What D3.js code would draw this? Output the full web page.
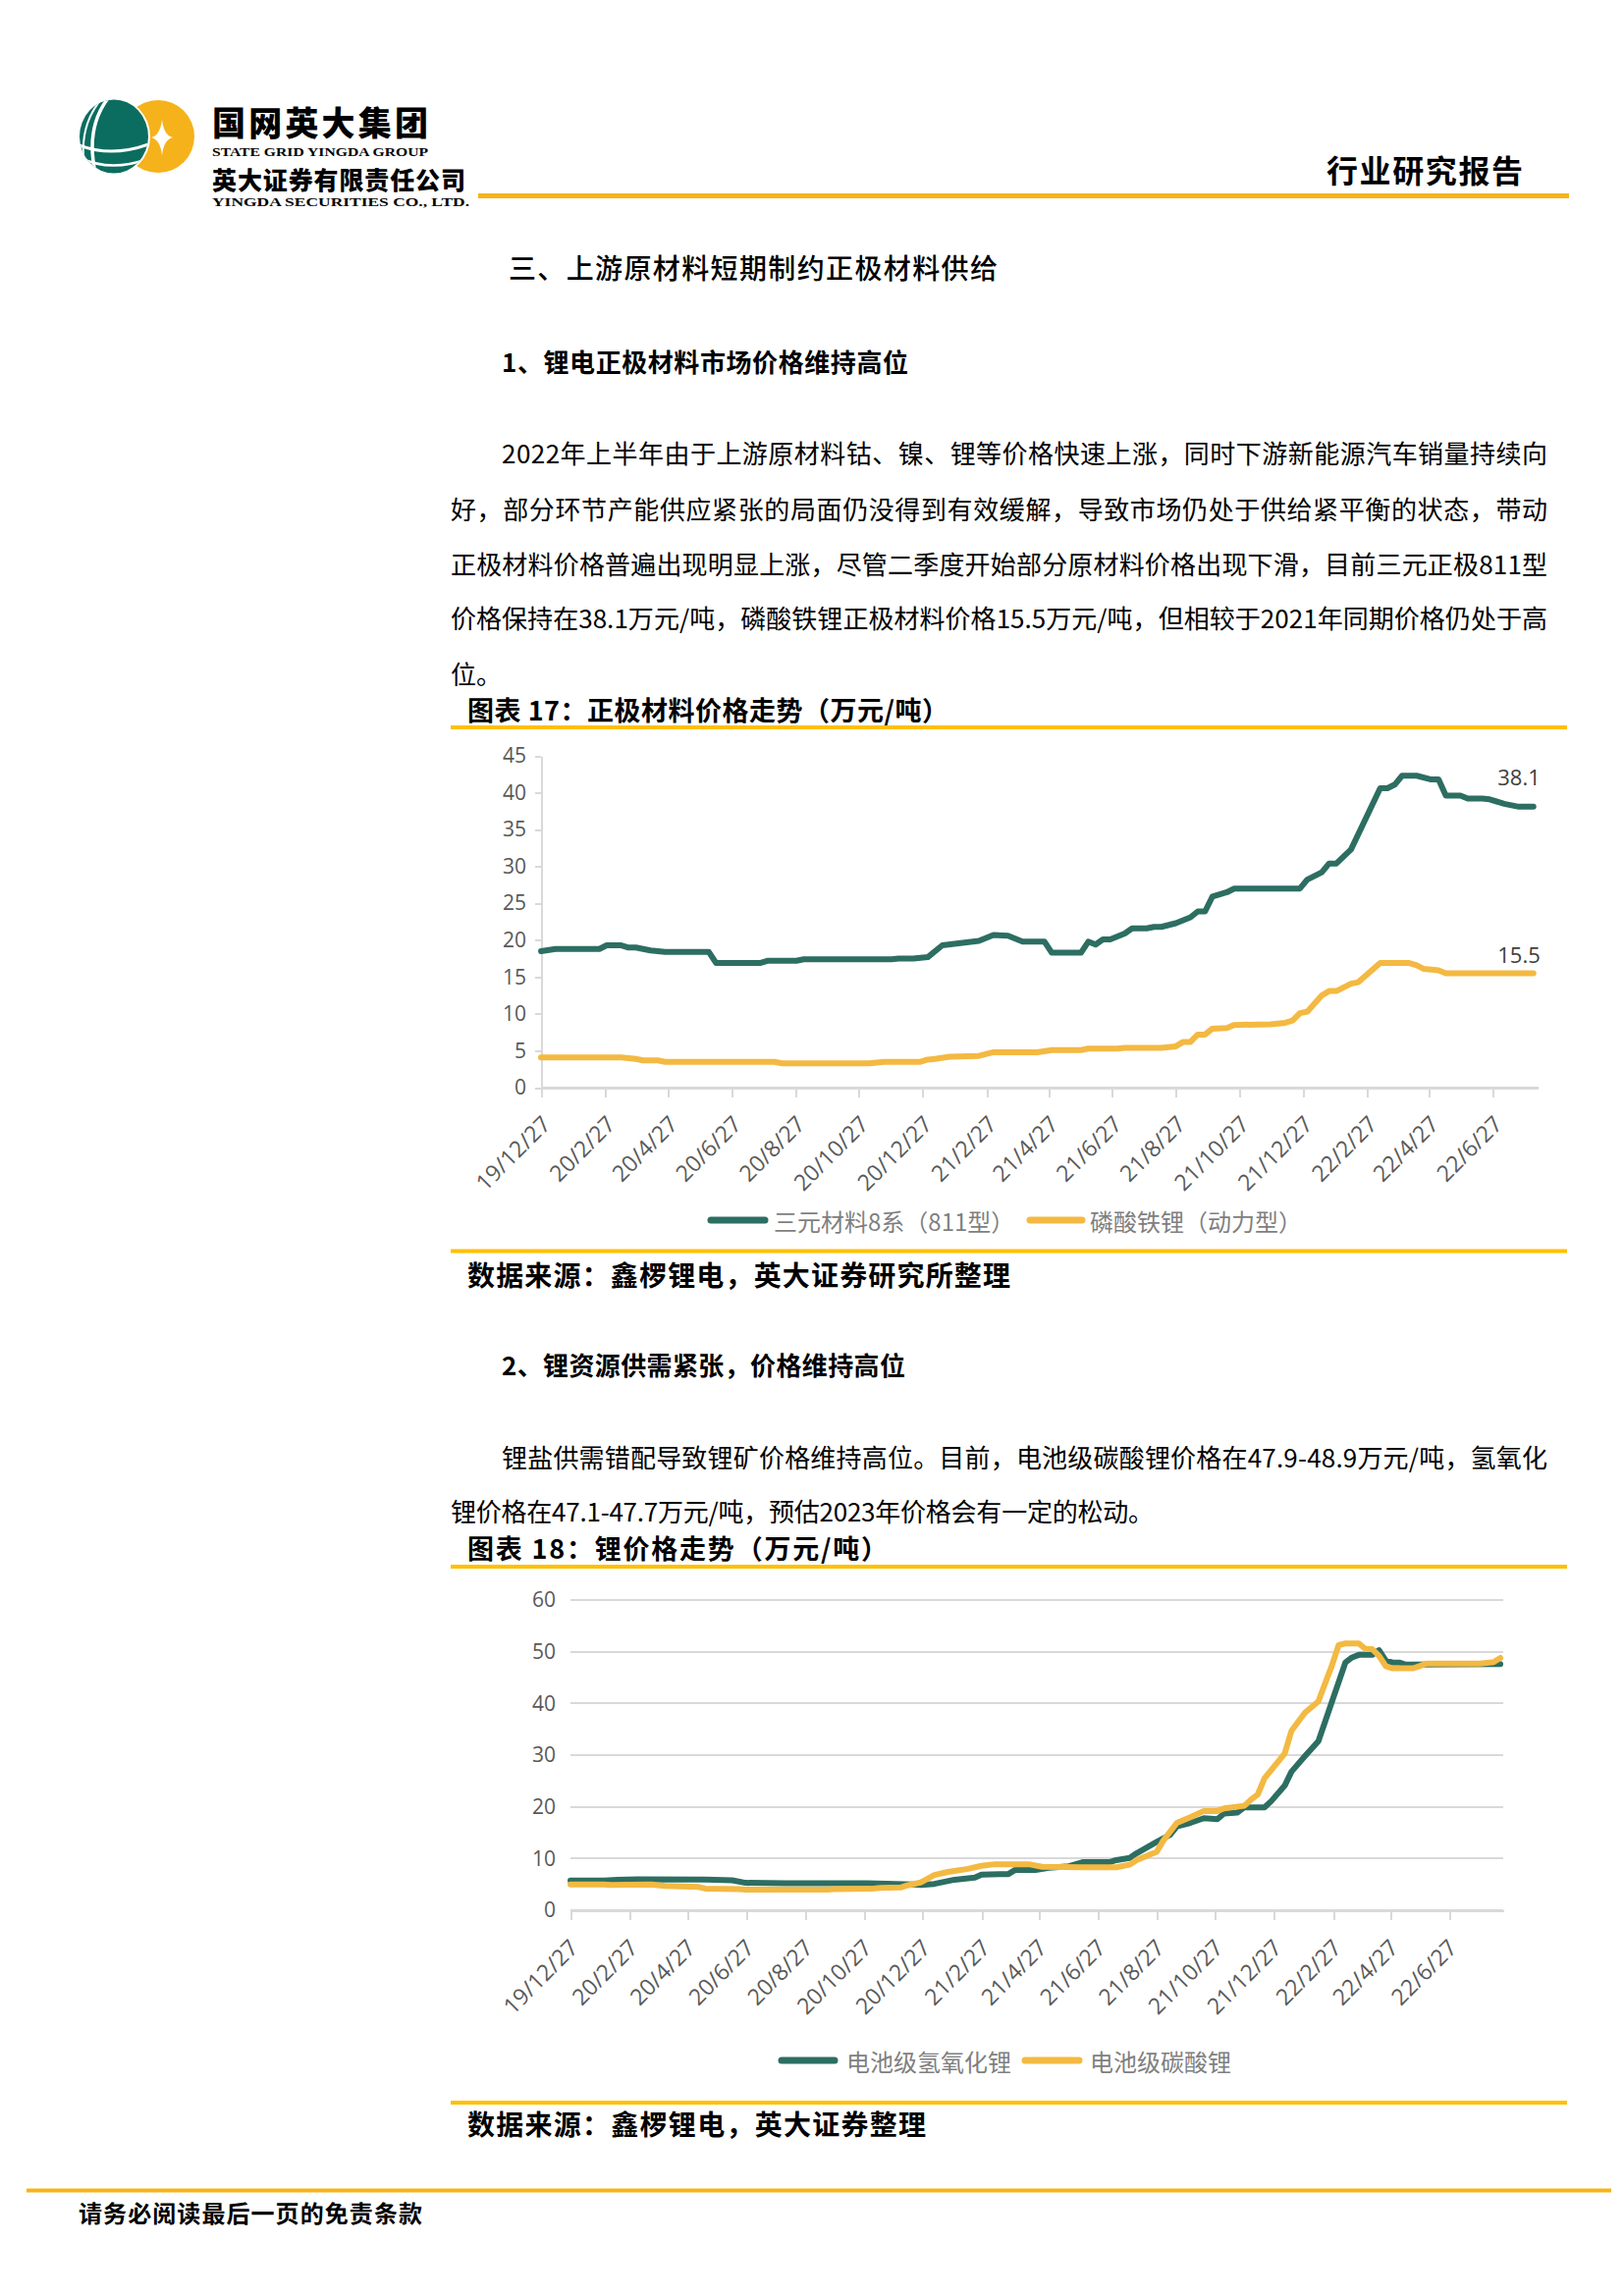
<!DOCTYPE html>
<html lang="zh-CN">
<head>
<meta charset="utf-8">
<title>正极材料与锂价格走势</title>
<script src="https://cdn.jsdelivr.net/npm/d3@7/dist/d3.min.js"></script>
<style>
  html, body { margin:0; padding:0; background:#ffffff; }
  svg { display:block; }
</style>
</head>
<body>
<svg id="page" width="1654" height="2339" xmlns="http://www.w3.org/2000/svg"></svg>
<script>
// ================= DATA =================
const tickLabels = ["19/12/27","20/2/27","20/4/27","20/6/27","20/8/27","20/10/27","20/12/27",
  "21/2/27","21/4/27","21/6/27","21/8/27","21/10/27","21/12/27","22/2/27","22/4/27","22/6/27"];
const chart1YTicks = [0,5,10,15,20,25,30,35,40,45];
const chart2YTicks = [0,10,20,30,40,50,60];
const chart1SeriesNames = ["三元材料8系（811型）", "磷酸铁锂（动力型）"];
const chart2SeriesNames = ["电池级氢氧化锂", "电池级碳酸锂"];

// 图表17 三元材料8系（811型）, 万元/吨
const ncmSeries = [["2019-12-27",18.5],["2020-01-10",18.8],["2020-02-21",18.8],["2020-02-28",19.3],
  ["2020-03-13",19.3],["2020-03-20",19.0],["2020-03-27",19.0],["2020-04-10",18.6],["2020-04-24",18.4],
  ["2020-06-05",18.4],["2020-06-12",16.9],["2020-07-24",16.9],["2020-07-31",17.2],["2020-08-28",17.2],
  ["2020-09-04",17.4],["2020-11-27",17.4],["2020-12-04",17.5],["2020-12-18",17.5],["2021-01-01",17.7],
  ["2021-01-15",19.3],["2021-02-19",19.9],["2021-03-05",20.7],["2021-03-19",20.6],["2021-04-02",19.8],
  ["2021-04-23",19.8],["2021-04-30",18.3],["2021-05-28",18.3],["2021-06-04",19.8],["2021-06-11",19.4],
  ["2021-06-18",20.1],["2021-06-25",20.1],["2021-07-09",20.9],["2021-07-16",21.6],["2021-07-30",21.6],
  ["2021-08-06",21.8],["2021-08-13",21.8],["2021-08-27",22.3],["2021-09-10",23.1],["2021-09-17",23.9],
  ["2021-09-24",23.9],["2021-10-01",25.9],["2021-10-15",26.5],["2021-10-22",27.0],["2021-12-24",27.0],
  ["2021-12-31",28.2],["2022-01-14",29.2],["2022-01-21",30.4],["2022-01-28",30.4],["2022-02-11",32.3],
  ["2022-03-11",40.6],["2022-03-18",40.6],["2022-03-25",41.1],["2022-04-01",42.3],["2022-04-15",42.3],
  ["2022-04-29",41.8],["2022-05-06",41.8],["2022-05-13",39.6],["2022-05-27",39.6],["2022-06-03",39.2],
  ["2022-06-17",39.2],["2022-06-24",39.1],["2022-07-08",38.5],["2022-07-22",38.1],["2022-08-05",38.1]];

// 图表17 磷酸铁锂（动力型）, 万元/吨
const lfpSeries = [["2019-12-27",4.1],["2020-03-13",4.1],["2020-03-27",3.9],["2020-04-03",3.7],
  ["2020-04-17",3.7],["2020-04-24",3.5],["2020-08-07",3.5],["2020-08-14",3.3],["2020-11-06",3.3],
  ["2020-11-20",3.5],["2020-12-25",3.5],["2021-01-01",3.8],["2021-01-08",3.9],["2021-01-22",4.2],
  ["2021-02-19",4.3],["2021-03-05",4.8],["2021-04-16",4.8],["2021-04-30",5.1],["2021-05-28",5.1],
  ["2021-06-04",5.3],["2021-07-02",5.3],["2021-07-09",5.4],["2021-08-13",5.4],["2021-08-27",5.6],
  ["2021-09-03",6.2],["2021-09-10",6.2],["2021-09-17",7.2],["2021-09-24",7.2],["2021-10-01",8.0],
  ["2021-10-15",8.1],["2021-10-22",8.5],["2021-11-26",8.6],["2021-12-10",8.8],["2021-12-17",9.1],
  ["2021-12-24",10.1],["2021-12-31",10.3],["2022-01-14",12.5],["2022-01-21",13.1],["2022-01-28",13.1],
  ["2022-02-11",14.1],["2022-02-18",14.3],["2022-03-11",16.9],["2022-04-08",16.9],["2022-04-15",16.6],
  ["2022-04-22",16.1],["2022-05-06",15.9],["2022-05-13",15.5],["2022-08-05",15.5]];

// 图表18 电池级氢氧化锂, 万元/吨
const hydroxideSeries = [["2019-12-27",5.75],["2020-01-31",5.75],["2020-02-14",5.9],["2020-03-06",6.0],
  ["2020-05-15",5.95],["2020-06-12",5.8],["2020-06-26",5.3],["2020-08-07",5.2],["2020-10-30",5.2],
  ["2020-12-18",5.0],["2020-12-25",4.9],["2021-01-08",5.1],["2021-01-29",5.9],["2021-02-19",6.3],
  ["2021-02-26",6.9],["2021-03-26",7.0],["2021-04-02",7.8],["2021-04-23",7.8],["2021-05-07",8.2],
  ["2021-05-28",8.5],["2021-06-11",9.3],["2021-07-09",9.3],["2021-07-16",9.7],["2021-07-30",10.1],
  ["2021-08-06",11.0],["2021-08-27",13.2],["2021-09-10",14.6],["2021-09-17",16.2],["2021-10-01",16.9],
  ["2021-10-15",17.8],["2021-10-29",17.6],["2021-11-05",18.7],["2021-11-19",18.9],["2021-11-26",19.9],
  ["2021-12-17",19.9],["2021-12-24",21.1],["2022-01-07",24.1],["2022-01-14",26.8],["2022-01-28",29.8],
  ["2022-02-11",32.7],["2022-03-11",47.9],["2022-03-18",48.9],["2022-03-25",49.4],["2022-04-08",49.4],
  ["2022-04-15",50.3],["2022-04-22",48.3],["2022-04-29",47.9],["2022-05-06",47.9],["2022-05-13",47.5],
  ["2022-08-19",47.6]];

// 图表18 电池级碳酸锂, 万元/吨
const carbonateSeries = [["2019-12-27",5.0],["2020-01-31",5.0],["2020-02-07",4.9],["2020-03-20",5.0],
  ["2020-04-03",4.7],["2020-05-08",4.5],["2020-05-15",4.2],["2020-06-19",4.1],["2020-06-26",4.0],
  ["2020-09-18",4.0],["2020-09-25",4.1],["2020-11-06",4.2],["2020-11-13",4.3],["2020-12-04",4.4],
  ["2020-12-11",4.8],["2020-12-25",5.4],["2021-01-08",6.8],["2021-01-22",7.4],["2021-02-12",8.0],
  ["2021-02-26",8.6],["2021-03-12",8.9],["2021-04-16",8.9],["2021-04-30",8.4],["2021-06-11",8.3],
  ["2021-07-16",8.3],["2021-07-30",8.8],["2021-08-06",9.7],["2021-08-27",11.3],["2021-09-03",13.5],
  ["2021-09-17",16.9],["2021-10-01",18.0],["2021-10-15",19.2],["2021-10-29",19.2],["2021-11-05",19.7],
  ["2021-11-26",20.2],["2021-12-03",21.4],["2021-12-10",22.4],["2021-12-17",25.5],["2022-01-07",30.3],
  ["2022-01-14",34.7],["2022-01-28",38.2],["2022-02-11",40.4],["2022-02-18",43.9],["2022-02-25",47.3],
  ["2022-03-04",51.3],["2022-03-11",51.6],["2022-03-25",51.6],["2022-04-01",50.5],["2022-04-08",50.5],
  ["2022-04-15",49.2],["2022-04-22",47.2],["2022-04-29",46.8],["2022-05-20",46.8],["2022-05-27",47.2],
  ["2022-06-03",47.7],["2022-07-29",47.7],["2022-08-12",48.0],["2022-08-19",48.8]];

// ================= STYLE =================
const CJK = "'Noto Sans CJK SC','Noto Sans',sans-serif";
const NUM = "'Open Sans','Noto Sans',sans-serif";
const SERIF = "'Liberation Serif','DejaVu Serif',serif";
const GREEN = "#2d6e62";
const ORANGE = "#f3b942";
const BAR = "#ffc000";
const HEAD = "#f8b31a";
const GRID = "#d9d9d9";

const parseISO = d3.timeParse("%Y-%m-%d");
const parseTick = d3.timeParse("%y/%m/%d");
const tickDates = tickLabels.map(parseTick);

const svg = d3.select("#page");
svg.append("rect").attr("width",1654).attr("height",2339).attr("fill","#fff");

function txt(x, y, s, o = {}) {
  const t = svg.append("text")
    .attr("x", x).attr("y", y)
    .attr("font-family", o.family || CJK)
    .attr("font-size", o.size || 26)
    .attr("font-weight", o.weight || 400)
    .attr("fill", o.fill || "#000")
    .attr("text-anchor", o.anchor || "start")
    .attr("dominant-baseline", o.baseline || "central")
    .text(s);
  if (o.len) t.attr("textLength", o.len).attr("lengthAdjust", "spacing");
  return t;
}
function hbar(x1, x2, y, h, c) {
  svg.append("rect").attr("x", x1).attr("y", y - h/2).attr("width", x2 - x1).attr("height", h).attr("fill", c);
}

// ================= HEADER =================
const logo = svg.append("g");
logo.append("circle").attr("cx",161).attr("cy",139).attr("r",37).attr("fill","#f6b21b");
logo.append("path").attr("fill","#fff")
  .attr("d","M165,122 Q167,138 176,140 Q167,142 165,158 Q163,142 154,140 Q163,138 165,122 Z");
logo.append("ellipse").attr("cx",116).attr("cy",139).attr("rx",37).attr("ry",39)
  .attr("fill","#fff");
logo.append("ellipse").attr("cx",116).attr("cy",139).attr("rx",35).attr("ry",37.5)
  .attr("fill","#0b6d60");
const clip = svg.append("defs").append("clipPath").attr("id","globe");
clip.append("ellipse").attr("cx",116).attr("cy",139).attr("rx",35).attr("ry",37.5);
const gl = logo.append("g").attr("clip-path","url(#globe)")
  .attr("fill","none").attr("stroke","#fff");
gl.append("path").attr("d","M110,100 Q86,132 98,180").attr("stroke-width",3.5);
gl.append("path").attr("d","M104,100 Q80,128 86,168").attr("stroke-width",2);
gl.append("path").attr("d","M76,146 Q112,162 154,146").attr("stroke-width",3);
gl.append("path").attr("d","M80,160 Q112,176 150,162").attr("stroke-width",2.5);

txt(216, 123, "国网英大集团", {size:34, weight:900, len:220});
svg.append("text").attr("x",216).attr("y",159).attr("font-family",SERIF).attr("font-size",12.5)
  .attr("font-weight",700).attr("textLength",220).attr("lengthAdjust","spacingAndGlyphs")
  .text("STATE GRID YINGDA GROUP");
txt(216, 182, "英大证券有限责任公司", {size:25, weight:900, len:258});
svg.append("text").attr("x",216).attr("y",210).attr("font-family",SERIF).attr("font-size",12.5)
  .attr("font-weight",700).attr("textLength",262).attr("lengthAdjust","spacingAndGlyphs")
  .text("YINGDA SECURITIES CO., LTD.");
txt(1351, 172, "行业研究报告", {size:32, weight:700, len:200});
hbar(487, 1598, 199.5, 5, HEAD);

// ================= TEXT BLOCK 1 =================
txt(518, 272, "三、上游原材料短期制约正极材料供给", {size:28, weight:500, len:498});
txt(511, 367, "1、锂电正极材料市场价格维持高位", {size:26, weight:700, len:414});
const para1 = [
  ["2022年上半年由于上游原材料钴、镍、锂等价格快速上涨，同时下游新能源汽车销量持续向", 511, 460, 1065],
  ["好，部分环节产能供应紧张的局面仍没得到有效缓解，导致市场仍处于供给紧平衡的状态，带动", 459, 517, 1117],
  ["正极材料价格普遍出现明显上涨，尽管二季度开始部分原材料价格出现下滑，目前三元正极811型", 459, 573, 1117],
  ["价格保持在38.1万元/吨，磷酸铁锂正极材料价格15.5万元/吨，但相较于2021年同期价格仍处于高", 459, 628, 1117],
  ["位。", 459, 685, null]
];
para1.forEach(([s,x,y,w]) => txt(x, y, s, {size:26, len:w}));

// ================= CHART 1 =================
txt(476, 722, "图表 17：正极材料价格走势（万元/吨）", {size:27, weight:700, len:490});
hbar(459, 1596, 741, 4, BAR);

(function chart1(){
  const x = d3.scaleTime().domain([parseISO("2019-12-27"), parseISO("2022-08-09")]).range([551, 1566]);
  const y = d3.scaleLinear().domain([0, 45]).range([1108, 770]);
  const g = svg.append("g");

  const ya = g.append("g").attr("transform","translate(551,0)")
    .call(d3.axisLeft(y).tickValues(chart1YTicks).tickSize(6).tickPadding(9).tickSizeOuter(0));
  ya.select(".domain").attr("stroke",GRID).attr("stroke-width",2);
  ya.selectAll(".tick line").attr("stroke",GRID).attr("stroke-width",2);
  ya.selectAll(".tick text").attr("font-family",NUM).attr("font-size",21).attr("fill","#595959");

  const xa = g.append("g").attr("transform","translate(0,1108)")
    .call(d3.axisBottom(x).tickValues(tickDates).tickSize(10).tickSizeOuter(0)
      .tickFormat((d,i) => tickLabels[i]));
  xa.select(".domain").attr("stroke",GRID).attr("stroke-width",2.5);
  xa.selectAll(".tick line").attr("stroke",GRID).attr("stroke-width",2);
  xa.selectAll(".tick text").attr("font-family",NUM).attr("font-size",23).attr("fill","#595959")
    .attr("x",0).attr("y",0).attr("dy","0.35em").attr("text-anchor","end")
    .attr("transform","translate(5,33) rotate(-45)");
  g.selectAll(".domain, .tick line").attr("shape-rendering","crispEdges");

  const line = d3.line().x(d => x(parseISO(d[0]))).y(d => y(d[1]));
  const series = [[ncmSeries, GREEN, 22], [lfpSeries, ORANGE, 11]];
  series.forEach(([data, c, off]) => {
    g.append("path").datum(data).attr("d", line).attr("fill","none").attr("stroke",c)
      .attr("stroke-width",6).attr("stroke-linejoin","round").attr("stroke-linecap","round");
    const last = data[data.length-1];
    g.append("text").attr("x", x(parseISO(last[0])) + 7).attr("y", y(last[1]) - off)
      .attr("text-anchor","end").attr("font-family",NUM).attr("font-size",22).attr("fill","#404040")
      .text(d3.format(".1f")(last[1]));
  });

  const leg = [[721,782,788,GREEN,chart1SeriesNames[0]],[1046,1105,1110,ORANGE,chart1SeriesNames[1]]];
  leg.forEach(([a,b,t,c,n]) => {
    g.append("line").attr("x1",a+3).attr("x2",b-3).attr("y1",1243).attr("y2",1243)
      .attr("stroke",c).attr("stroke-width",7).attr("stroke-linecap","round");
    g.append("text").attr("x",t).attr("y",1243).attr("dominant-baseline","central")
      .attr("font-family",CJK).attr("font-size",24).attr("fill","#7f7f7f").text(n);
  });
})();

hbar(459, 1596, 1274.5, 4, BAR);
txt(476, 1298, "数据来源：鑫椤锂电，英大证券研究所整理", {size:28, weight:700, len:553});

// ================= TEXT BLOCK 2 =================
txt(511, 1389, "2、锂资源供需紧张，价格维持高位", {size:26, weight:700, len:411});
const para2 = [
  ["锂盐供需错配导致锂矿价格维持高位。目前，电池级碳酸锂价格在47.9-48.9万元/吨，氢氧化", 511, 1483, 1065],
  ["锂价格在47.1-47.7万元/吨，预估2023年价格会有一定的松动。", 459, 1538, 716]
];
para2.forEach(([s,x,y,w]) => txt(x, y, s, {size:26, len:w}));

// ================= CHART 2 =================
txt(476, 1576, "图表 18：锂价格走势（万元/吨）", {size:27, weight:700, len:428});
hbar(459, 1596, 1596, 4, BAR);

(function chart2(){
  const x = d3.scaleTime().domain([parseISO("2019-12-27"), parseISO("2022-08-22")]).range([581, 1531]);
  const y = d3.scaleLinear().domain([0, 60]).range([1946, 1630]);
  const g = svg.append("g");

  g.append("g").selectAll("line").data(chart2YTicks).join("line")
    .attr("x1",581).attr("x2",1531).attr("y1",d=>y(d)).attr("y2",d=>y(d))
    .attr("stroke",GRID).attr("stroke-width",2).attr("shape-rendering","crispEdges");

  const ya = g.append("g").attr("transform","translate(581,0)")
    .call(d3.axisLeft(y).tickValues(chart2YTicks).tickSize(0).tickPadding(15));
  ya.select(".domain").remove();
  ya.selectAll(".tick text").attr("font-family",NUM).attr("font-size",21).attr("fill","#595959");

  const xa = g.append("g").attr("transform","translate(0,1946)")
    .call(d3.axisBottom(x).tickValues(tickDates).tickSize(10).tickSizeOuter(0)
      .tickFormat((d,i) => tickLabels[i]));
  xa.select(".domain").attr("stroke",GRID).attr("stroke-width",2);
  xa.selectAll(".tick line").attr("stroke",GRID).attr("stroke-width",2);
  xa.selectAll(".tick text").attr("font-family",NUM).attr("font-size",23).attr("fill","#595959")
    .attr("x",0).attr("y",0).attr("dy","0.35em").attr("text-anchor","end")
    .attr("transform","translate(3,34) rotate(-45)");
  g.selectAll(".domain, .tick line").attr("shape-rendering","crispEdges");

  const line = d3.line().x(d => x(parseISO(d[0]))).y(d => y(d[1]));
  [[hydroxideSeries, GREEN],[carbonateSeries, ORANGE]].forEach(([data,c]) => {
    g.append("path").datum(data).attr("d", line).attr("fill","none").attr("stroke",c)
      .attr("stroke-width",6).attr("stroke-linejoin","round").attr("stroke-linecap","round");
  });

  const leg = [[793,853,862,GREEN,chart2SeriesNames[0]],[1041,1102,1110,ORANGE,chart2SeriesNames[1]]];
  leg.forEach(([a,b,t,c,n]) => {
    g.append("line").attr("x1",a+3).attr("x2",b-3).attr("y1",2099).attr("y2",2099)
      .attr("stroke",c).attr("stroke-width",7).attr("stroke-linecap","round");
    g.append("text").attr("x",t).attr("y",2099).attr("dominant-baseline","central")
      .attr("font-family",CJK).attr("font-size",24).attr("fill","#7f7f7f").text(n);
  });
})();

hbar(459, 1596, 2142, 4, BAR);
txt(476, 2163, "数据来源：鑫椤锂电，英大证券整理", {size:28, weight:700, len:467});

// ================= FOOTER =================
hbar(27, 1641, 2231.5, 4, HEAD);
txt(80, 2253, "请务必阅读最后一页的免责条款", {size:24, weight:700, len:350});
</script>
</body>
</html>
